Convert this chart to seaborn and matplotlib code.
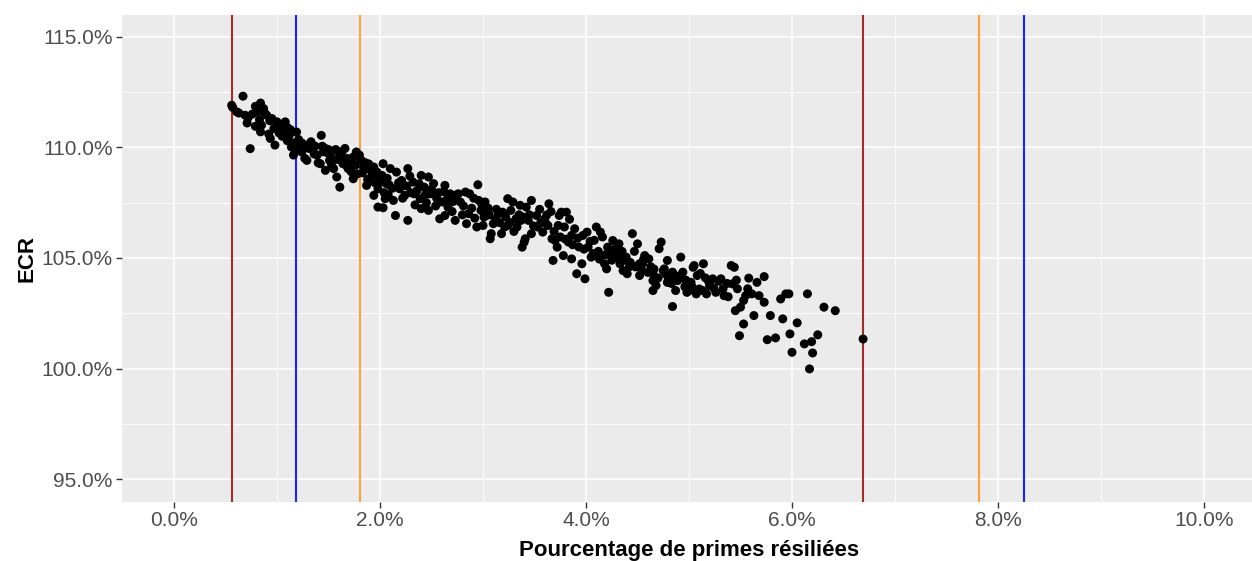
import matplotlib
matplotlib.use("Agg")
import matplotlib.pyplot as plt
import seaborn as sns
import pandas as pd
from matplotlib.ticker import FuncFormatter, MultipleLocator

# data (both axes in percent)
taux_resil = [
    0.56, 0.57, 0.61, 0.63, 0.67, 0.69, 0.71, 0.72, 0.74, 0.76, 0.79, 0.81, 0.83,
    0.84, 0.84, 0.79, 0.85, 0.87, 0.90, 0.92, 0.935, 0.95, 0.97, 0.98, 1.00,
    1.02, 1.05, 1.06, 1.08, 1.10, 1.10, 1.12, 1.14, 1.15, 1.16, 1.18, 1.19, 1.21,
    1.24, 1.24, 1.27, 1.29, 1.29, 1.31, 1.34, 1.36, 1.39, 1.40, 1.42, 1.43, 1.44,
    1.47, 1.47, 1.49, 1.51, 1.52,
    1.55, 1.57, 1.58, 1.60, 1.61, 1.61, 1.64, 1.66, 1.68, 1.69, 1.71, 1.73, 1.74,
    1.74, 1.76, 1.77, 1.78, 1.80, 1.82, 1.84, 1.86, 1.87, 1.88, 1.90, 1.94, 1.94,
    1.95, 1.97, 1.98, 1.98,
    2.02, 2.01, 2.03, 2.04, 2.03, 2.05, 2.06, 2.07, 2.08, 2.10, 2.13, 2.15, 2.16,
    2.19, 2.21, 2.24, 2.27, 2.27, 2.30, 2.32, 2.34, 2.36, 2.39, 2.40, 2.40, 2.43,
    2.45, 2.47, 2.47, 2.49,
    2.52, 2.55, 2.58, 2.60, 2.62, 2.63, 2.63, 2.66, 2.68, 2.70, 2.73, 2.76, 2.78,
    2.80, 2.83, 2.84, 2.87, 2.89, 2.92, 2.94, 2.95, 2.96,
    3.00, 3.01, 3.02, 2.98, 3.03, 3.05, 3.07, 3.08, 3.10, 3.12, 3.15, 3.18, 3.19,
    3.21, 3.24, 3.24, 3.27, 3.29, 3.30, 3.32, 3.35, 3.36, 3.38, 3.39, 3.40, 3.41,
    3.42, 3.44, 3.47, 3.47,
    3.52, 3.53, 3.55, 3.58, 3.60, 3.61, 3.63, 3.64, 3.66, 3.67, 3.68, 3.70, 3.72,
    3.73, 3.74, 3.76, 3.78, 3.79, 3.81, 3.83, 3.84, 3.86, 3.86, 3.89, 3.91, 3.93,
    3.96, 3.97, 3.99,
    4.01, 4.02, 4.05, 4.08, 4.10, 4.12, 4.14, 4.16, 4.18, 4.20, 4.21, 4.22, 4.24,
    4.26, 4.28, 4.29, 4.32, 4.33, 4.36, 4.37, 4.39, 4.40, 4.42, 4.45, 4.47, 4.50,
    4.52, 4.52, 4.54, 4.56, 4.57, 4.61, 4.63, 4.65, 4.65, 4.65, 4.68, 4.71, 4.73,
    4.75, 4.76, 4.79, 4.79, 4.80, 4.84, 4.84, 4.86, 4.87, 4.89, 4.92, 4.94, 4.96,
    4.98, 5.00,
    5.02, 5.04, 5.05, 5.07, 5.08, 5.10, 5.13, 5.14, 5.16, 5.17, 5.20, 5.23, 5.26,
    5.29, 5.31, 5.34, 5.37, 5.41, 5.42, 5.44, 5.45, 5.47, 5.49, 5.50,
    5.53, 5.53, 5.57, 5.58, 5.61, 5.63, 5.66, 5.68, 5.73, 5.73, 5.76, 5.79, 5.84,
    5.89, 5.91, 5.94, 5.97, 5.98, 6.00, 6.05, 6.12, 6.15, 6.17, 6.19, 6.20, 6.25,
    6.31, 6.42, 6.69,
    # denser core of the cloud
    0.88, 0.93, 1.03, 1.13, 1.20, 1.26, 1.33, 1.37, 1.45, 1.50, 1.53, 1.59, 1.63,
    1.67, 1.72, 1.83, 1.89, 1.92, 1.99, 2.09, 2.12, 2.18, 2.22, 2.26, 2.29, 2.33,
    2.38, 2.44, 2.50, 2.54, 2.57, 2.65, 2.71, 2.74, 2.81, 2.86, 2.91, 2.99, 3.06,
    3.13, 3.16, 3.22, 3.26, 3.33, 3.37, 3.45, 3.49, 3.56, 3.62, 3.69, 3.75, 3.80,
    3.87, 3.92, 3.98, 4.04, 4.07, 4.13, 4.19, 4.25, 4.31, 4.35, 4.43, 4.48, 4.55,
    4.60, 4.66, 4.70, 4.78, 4.83, 4.91, 4.97, 5.03, 5.11, 5.19, 5.24, 5.33, 5.38,
    5.46, 5.55,
]
ecr = [
    111.90, 111.80, 111.60, 111.55, 112.31, 111.45, 111.10, 111.35, 109.94, 111.50, 111.85, 111.60, 111.25,
    112.00, 110.70, 110.95, 111.00, 111.75, 111.45, 110.60, 110.40, 111.30, 110.85, 110.10, 111.15,
    110.65, 110.50, 110.75, 111.15, 110.90, 110.30, 110.55, 110.01, 110.20, 109.65, 109.85, 110.69, 110.35,
    110.20, 109.79, 109.50, 110.10, 109.41, 109.95, 109.95, 109.70, 109.65, 109.30, 109.26, 110.54, 110.05,
    109.95, 108.96, 109.75, 109.41, 109.60,
    109.04, 109.90, 108.66, 109.79, 109.60, 108.20, 109.26, 109.95, 109.50, 109.04, 109.30, 109.41, 109.56,
    108.58, 109.19, 109.79, 108.80, 109.65, 109.41, 109.11, 109.30, 108.28, 108.55, 109.00, 109.11, 107.83,
    108.40, 108.88, 108.13, 107.30,
    108.73, 108.45, 109.26, 107.95, 107.27, 107.68, 108.36, 108.60, 107.85, 109.04, 107.60, 106.92, 108.88,
    108.13, 108.50, 107.83, 109.04, 106.70, 107.95, 108.43, 107.40, 108.05, 107.68, 108.73, 107.23, 108.20,
    107.50, 108.66, 107.15, 107.90,
    108.36, 107.70, 106.77, 107.53, 108.00, 108.28, 106.92, 107.30, 107.90, 107.10, 106.70, 107.90, 107.53,
    106.95, 107.98, 106.55, 107.90, 107.25, 106.80, 106.40, 108.31, 107.60,
    106.47, 106.85, 107.53, 107.15, 106.92, 107.25, 105.87, 106.10, 106.55, 106.75, 107.00, 106.10, 107.07,
    106.40, 107.68, 106.47, 107.15, 107.53, 106.20, 106.77, 106.95, 107.38, 105.49, 106.85, 105.72, 105.87,
    107.30, 106.70, 107.60, 106.10,
    106.92, 106.40, 107.20, 106.17, 106.77, 106.55, 106.47, 107.45, 107.10, 105.87, 104.89, 105.79, 105.49,
    106.47, 106.92, 107.07, 105.11, 106.40, 107.07, 105.72, 106.75, 106.02, 104.96, 106.32, 104.29, 105.50,
    104.74, 106.02, 104.06,
    106.17, 105.49, 105.04, 105.80, 106.40, 105.30, 106.17, 105.95, 104.74, 104.51, 105.49, 103.45, 105.20,
    105.79, 105.40, 105.11, 105.64, 104.74, 104.43, 104.90, 105.04, 104.29, 104.60, 106.10, 105.30, 105.64,
    104.74, 104.21, 104.45, 104.96, 105.11, 104.96, 104.60, 104.29, 103.98, 103.53, 103.76, 105.42, 105.72,
    104.43, 104.51, 104.89, 103.90, 104.13, 104.36, 102.81, 104.05, 103.53, 103.98, 105.04, 104.36, 103.70,
    103.45, 103.53,
    103.90, 104.58, 104.66, 103.38, 104.21, 103.60, 103.53, 104.74, 104.10, 103.38, 103.75, 104.06, 103.45,
    103.95, 104.06, 103.30, 103.85, 104.66, 103.83, 104.58, 102.62, 103.61, 101.49, 102.78,
    103.08, 102.02, 103.61, 104.09, 103.38, 102.40, 103.90, 103.30, 104.16, 103.00, 101.31, 102.40, 101.39,
    103.15, 102.25, 103.38, 103.38, 101.57, 100.74, 102.07, 101.12, 103.38, 99.99, 101.22, 100.71, 101.53,
    102.78, 102.62, 101.34,
    111.55, 111.20, 110.95, 110.80, 110.10, 109.95, 110.25, 110.05, 109.80, 109.90, 109.20, 109.45, 109.80,
    109.20, 108.90, 108.85, 109.25, 108.70, 108.65, 108.30, 108.15, 108.40, 107.70, 108.25, 108.70, 107.90,
    108.35, 107.85, 108.10, 107.35, 107.95, 107.65, 107.55, 107.85, 107.35, 107.00, 107.70, 107.40, 106.95,
    107.20, 106.60, 106.85, 106.60, 106.40, 106.70, 106.95, 106.45, 106.60, 106.95, 106.20, 105.95, 105.85,
    105.60, 105.90, 105.40, 105.75, 105.20, 104.95, 105.15, 104.90, 105.00, 105.30, 104.80, 104.60, 104.75,
    104.35, 104.50, 104.10, 104.25, 103.85, 104.20, 104.00, 103.70, 104.30, 103.95, 103.65, 103.60, 103.25,
    104.00, 103.30,
]

# seuils (vertical lines)
seuils_x = [0.56, 6.69, 1.18, 8.25, 1.81, 7.82]
seuils_couleur = ["#A52A2A", "#A52A2A", "#1F1FFF", "#1F1FFF", "#FFA040", "#FFA040"]

x_ticks = [0, 2, 4, 6, 8, 10]
y_ticks = [95, 100, 105, 110, 115]

df = pd.DataFrame({"resil": taux_resil, "ecr": ecr})

sns.set_theme(style="darkgrid", rc={
    "axes.facecolor": "#EBEBEB",
    "grid.color": "white",
})
plt.rcParams["font.family"] = ["Liberation Sans", "DejaVu Sans"]

fig = plt.figure(figsize=(12.52, 5.61), dpi=100)
ax = fig.add_axes([122.5 / 1252, 59.5 / 561, 1133 / 1252, 487 / 561])

ax.set_xlim(-0.5, 10.5)
ax.set_ylim(94, 116)
ax.xaxis.set_major_locator(MultipleLocator(2))
ax.xaxis.set_minor_locator(MultipleLocator(1))
ax.yaxis.set_major_locator(MultipleLocator(5))
ax.yaxis.set_minor_locator(MultipleLocator(2.5))
ax.grid(which="major", color="white", linewidth=1.1)
ax.grid(which="minor", color="white", linewidth=0.55)

for xv, c in zip(seuils_x, seuils_couleur):
    ax.axvline(xv, color=c, linewidth=1.5, zorder=2)

sns.scatterplot(data=df, x="resil", y="ecr", color="black", s=42,
                edgecolor="none", ax=ax, zorder=3)

ax.xaxis.set_major_formatter(FuncFormatter(lambda v, p: f"{v:.1f}%"))
ax.yaxis.set_major_formatter(FuncFormatter(lambda v, p: f"{v:.1f}%"))
ax.set_xticks(x_ticks)
ax.set_yticks(y_ticks)
ax.tick_params(axis="both", which="major", length=4, width=1, color="#333333",
               labelcolor="#4D4D4D", labelsize=15, pad=3, bottom=True, left=True)
ax.tick_params(which="minor", length=0)
for s in ax.spines.values():
    s.set_visible(False)

ax.set_xlabel("Pourcentage de primes résiliées", fontsize=16, fontweight="bold",
              color="black", labelpad=7)
ax.set_ylabel("ECR", fontsize=16, fontweight="bold", color="black", labelpad=3)

fig.savefig("out.png", dpi=100)
